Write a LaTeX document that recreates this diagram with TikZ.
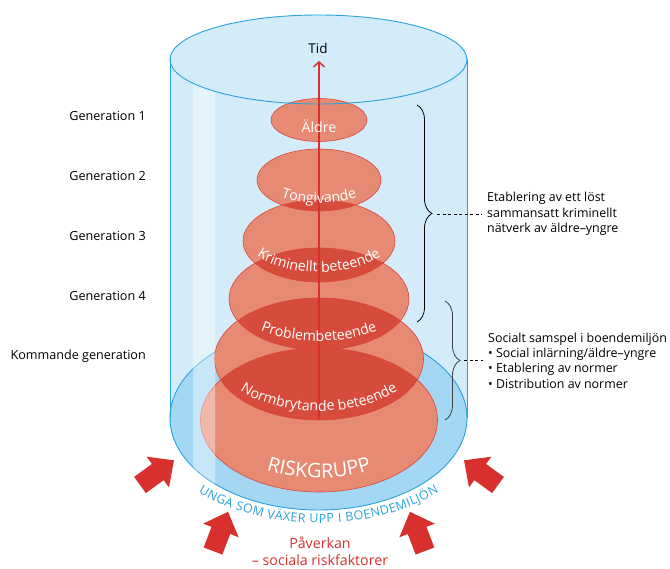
\documentclass[tikz,border=0pt]{standalone}
\usepackage{fontspec}
\setmainfont{Open Sans}
\usetikzlibrary{decorations.text,decorations.pathreplacing,arrows.meta,calc}
\definecolor{cylfill}{RGB}{212,235,249}
\definecolor{cylbot}{RGB}{163,215,244}
\definecolor{cylline}{RGB}{41,163,221}
\definecolor{redlight}{RGB}{230,138,116}
\definecolor{reddark}{RGB}{215,75,60}
\definecolor{redline}{RGB}{220,70,58}
\definecolor{arrowred}{RGB}{215,48,45}
\newcommand\glabfont{\fontsize{12.6}{14}\selectfont}
\newcommand\rtextfont{\fontsize{12.4}{15.3}\selectfont}
\newcommand\wfont{\fontsize{14.2}{14}\selectfont}
\newcommand\bigfont{\fontsize{20}{20}\selectfont}
\newcommand\bluefont{\fontsize{12.5}{13}\selectfont}
\newcommand\redfont{\fontsize{14.2}{16.5}\selectfont}
\newcommand\blockarrow[2]{\fill[arrowred,shift={#1},rotate=#2] (0,10) -- (22,10) -- (22,19) -- (42,0) -- (22,-19) -- (22,-10) -- (0,-10) -- cycle;}
\begin{document}
\begin{tikzpicture}[x=1pt,y=-1pt,
  cyl/.style={draw=cylline,line width=0.9pt},
  glab/.style={font=\glabfont,inner sep=0pt,anchor=east},
  rtext/.style={font=\rtextfont,align=left,anchor=west,inner xsep=5pt,inner ysep=0pt},
  wlab/.style={decorate,decoration={text along path,text align=center,text color=white}},
  bracestyle/.style={decorate,decoration={brace,amplitude=15pt},line width=0.8pt},
  dashline/.style={dash pattern=on 3pt off 2.5pt,line width=0.6pt}]
\useasboundingbox (0,0) rectangle (670,569);
% cylinder body
\fill[cylfill] (170,59.5) arc[start angle=180,end angle=360,x radius=148.5,y radius=44.5] -- (467,418) arc[start angle=0,end angle=180,x radius=148.5,y radius=92] -- cycle;
\fill[cylbot] (318.5,418) ellipse[x radius=148.5,y radius=92];
\draw[cyl] (318.5,418) ellipse[x radius=148.5,y radius=92];
\draw[cyl] (170,59.5) -- (170,418);
\draw[cyl] (467,59.5) -- (467,418);
% red ellipses
\foreach \cy/\rx/\ry in {120/48/21.5,180/62/31,241/76/41,299/90/51,359/104.5/61,420/118.5/72}
  \fill[redlight] (319,\cy) ellipse[x radius=\rx,y radius=\ry];
\foreach \ay/\arx/\ary/\by/\brx/\bry in {180/62/31/241/76/41,241/76/41/299/90/51,299/90/51/359/104.5/61,359/104.5/61/420/118.5/72}{
  \begin{scope}
    \clip (319,\ay) ellipse[x radius=\arx,y radius=\ary];
    \fill[reddark] (319,\by) ellipse[x radius=\brx,y radius=\bry];
  \end{scope}}
\foreach \cy/\rx/\ry in {120/48/21.5,180/62/31,241/76/41,299/90/51,359/104.5/61,420/118.5/72}
  \draw[redline,line width=0.6pt] (319,\cy) ellipse[x radius=\rx,y radius=\ry];
% highlight stripe
\begin{scope}
  \clip (193,0) rectangle (215,569);
  \fill[white,opacity=0.4] (170,59.5) arc[start angle=180,end angle=0,x radius=148.5,y radius=44.5] -- (467,418) arc[start angle=0,end angle=180,x radius=148.5,y radius=92] -- cycle;
\end{scope}
\draw[cyl] (318.5,59.5) ellipse[x radius=148.5,y radius=44.5];
% time arrow
\coordinate (tidbase) at (319,420);
\coordinate (tidtop) at (319,61);
\node[font=\fontsize{13.5}{14}\selectfont,inner sep=0pt] (tid) at (318,48.5) {Tid};
\draw[arrowred,line width=1.8pt,-{Straight Barb[length=5pt,width=11pt,line width=1.5pt]}] (tidbase) -- (tidtop);
% labels inside
\node[font=\wfont,text=white,inner sep=0pt] (aldre) at (319,126.5) {Äldre};
\path[wlab,decoration={text={|\wfont|Tongivande}}] ($(319,180)+(160:57.8 and 23)$) arc[start angle=160,end angle=20,x radius=57.8,y radius=23];
\path[wlab,decoration={text={|\wfont|Kriminellt beteende}}] ($(319,241)+(168:70.3 and 31)$) arc[start angle=168,end angle=12,x radius=70.3,y radius=31];
\path[wlab,decoration={text={|\wfont|Problembeteende}}] ($(319,299)+(160:88.2 and 42)$) arc[start angle=160,end angle=20,x radius=88.2,y radius=42];
\path[wlab,decoration={text={|\wfont|Normbrytande beteende}}] ($(319,359)+(168:99.2 and 52)$) arc[start angle=168,end angle=12,x radius=99.2,y radius=52];
\path[wlab,decoration={text={|\bigfont|RISKGRUPP}}] ($(319,420)+(150:106 and 58)$) arc[start angle=150,end angle=30,x radius=106,y radius=58];
\path[decorate,decoration={text along path,text align=fit to path,text color=cylline,text={|\bluefont|UNGA SOM VÄXER UPP I BOENDEMILJÖN}}] ($(318.5,418)+(135:170 and 105)$) arc[start angle=135,end angle=45,x radius=170,y radius=105];
% generation labels
\node[glab] (g1) at (146,116) {Generation 1};
\node[glab] (g2) at (146,176) {Generation 2};
\node[glab] (g3) at (146,236) {Generation 3};
\node[glab] (g4) at (146,296) {Generation 4};
\node[glab] (g5) at (146,356) {Kommande generation};
% braces
\coordinate (b1top) at (417,105);
\coordinate (b1bot) at (417,322);
\coordinate (b1tip) at (437,214);
\draw[bracestyle,black] (b1top) -- (b1bot);
\node[rtext] (t1) at (482,214) {Etablering av ett löst\\sammansatt kriminellt\\nätverk av äldre–yngre};
\draw[dashline] (b1tip) -- (t1.west);
\coordinate (b2top) at (445,301);
\coordinate (b2bot) at (445,420);
\coordinate (b2tip) at (464,360.5);
\draw[bracestyle,black!75] (b2top) -- (b2bot);
\node[rtext] (t2) at (483,360.5) {Socialt samspel i boendemiljön\\• Social inlärning/äldre–yngre\\• Etablering av normer\\• Distribution av normer};
\draw[dashline] (b2tip) -- (t2.west);
% block arrows
\blockarrow{(140,485)}{36}
\blockarrow{(498,485)}{144}
\blockarrow{(213,551)}{69}
\blockarrow{(425,551)}{111}
% bottom text
\node[font=\redfont,text=arrowred,align=center,inner sep=0pt] (pav) at (320,551.5) {Påverkan\\– sociala riskfaktorer};
\end{tikzpicture}
\end{document}
